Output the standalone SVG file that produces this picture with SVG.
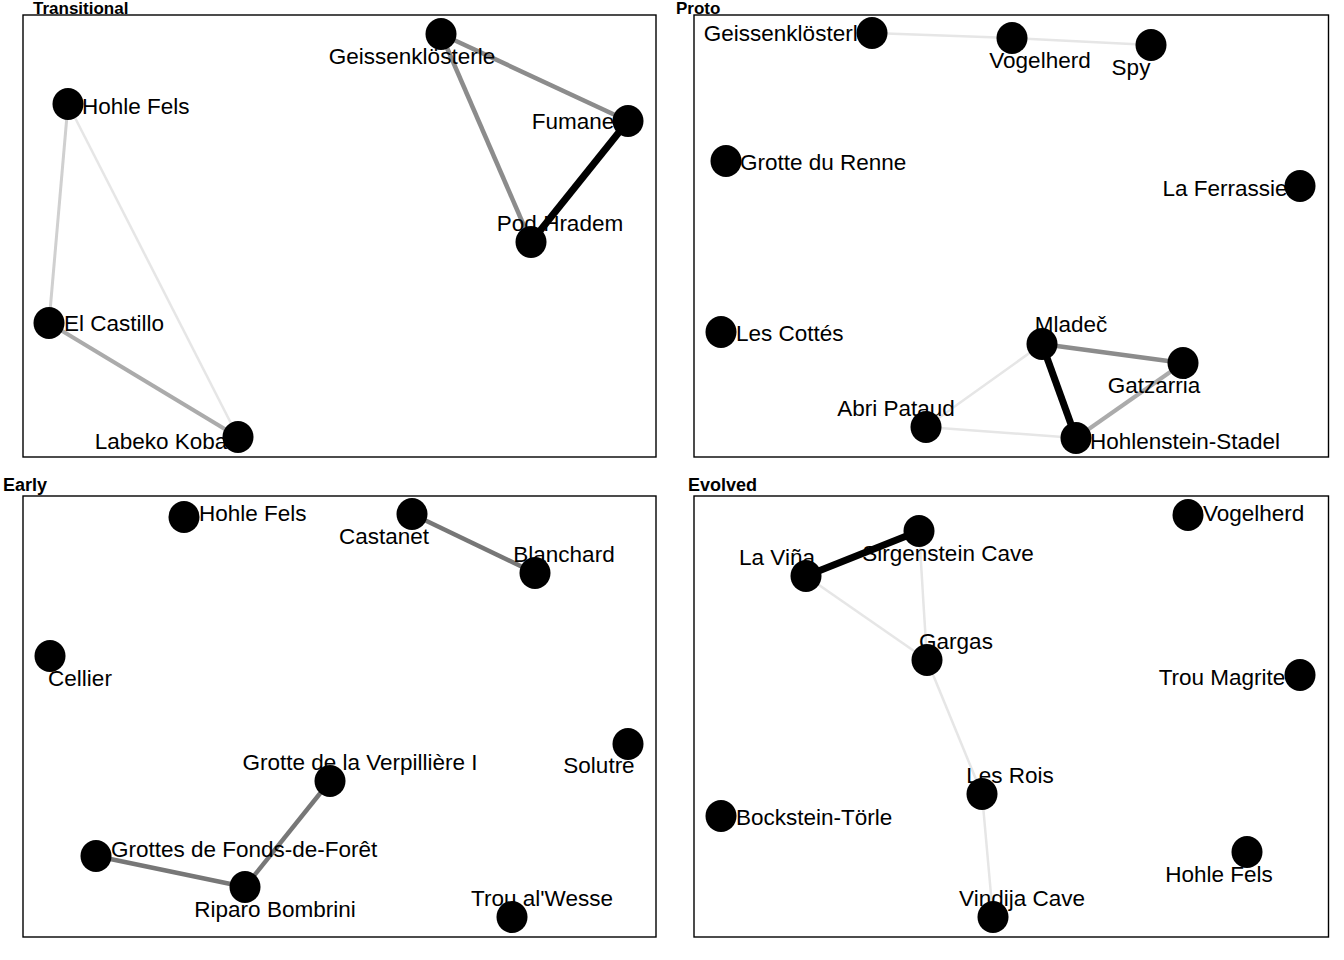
<svg xmlns="http://www.w3.org/2000/svg" width="1344" height="960" viewBox="0 0 1344 960">
<style>
.bg{fill:#fff}
.frame{fill:none;stroke:#000;stroke-width:1.4}
.title{font-family:"Liberation Sans",Arial,sans-serif;font-size:18px;font-weight:bold;fill:#000}
.top{font-size:17px}
.lbl{font-family:"Liberation Sans",Arial,sans-serif;font-size:22.5px;fill:#000}
.mid{text-anchor:middle}
.n{fill:#000}
.e{fill:none;stroke-linecap:butt}
.w1{stroke:#e6e6e6;stroke-width:2.5}
.w2{stroke:#d0d0d0;stroke-width:3}
.w3{stroke:#ababab;stroke-width:4}
.w4{stroke:#8c8c8c;stroke-width:4.5}
.w5{stroke:#777;stroke-width:4.5}
.w6{stroke:#000;stroke-width:7}
</style>
<rect class="bg" x="0" y="0" width="1344" height="960"/>

<g id="panels">
<text class="title top" x="33" y="13.5">Transitional</text>
<rect class="frame" x="23" y="15" width="633" height="442"/>
<text class="title top" x="676" y="13.5">Proto</text>
<rect class="frame" x="694" y="15" width="634.5" height="442"/>
<text class="title" x="3" y="491">Early</text>
<rect class="frame" x="23" y="496" width="633" height="441"/>
<text class="title" x="688" y="491">Evolved</text>
<rect class="frame" x="694" y="496" width="634.5" height="441"/>
</g>

<g id="connectors">
<!-- Transitional -->
<line class="e w4" x1="441" y1="34" x2="628" y2="121"/>
<line class="e w4" x1="441" y1="34" x2="531" y2="242"/>
<line class="e w6" x1="628" y1="121" x2="531" y2="242"/>
<line class="e w2" x1="68" y1="104" x2="49" y2="323"/>
<line class="e w1" x1="68" y1="104" x2="238" y2="437"/>
<line class="e w3" x1="49" y1="323" x2="238" y2="437"/>
<!-- Proto -->
<line class="e w1" x1="872" y1="33" x2="1012" y2="38"/>
<line class="e w1" x1="1012" y1="38" x2="1151" y2="45"/>
<line class="e w4" x1="1042" y1="344" x2="1183" y2="363"/>
<line class="e w6" x1="1042" y1="344" x2="1076" y2="438"/>
<line class="e w3" x1="1183" y1="363" x2="1076" y2="438"/>
<line class="e w1" x1="926" y1="427" x2="1042" y2="344"/>
<line class="e w1" x1="926" y1="427" x2="1076" y2="438"/>
<!-- Early -->
<line class="e w5" x1="412" y1="514" x2="535" y2="573"/>
<line class="e w5" x1="330" y1="781" x2="245" y2="887"/>
<line class="e w5" x1="96" y1="856" x2="245" y2="887"/>
<!-- Evolved -->
<line class="e w6" x1="806" y1="576" x2="919" y2="531"/>
<line class="e w1" x1="806" y1="576" x2="927" y2="660"/>
<line class="e w1" x1="919" y1="531" x2="927" y2="660"/>
<line class="e w1" x1="927" y1="660" x2="982" y2="794"/>
<line class="e w1" x1="982" y1="794" x2="993" y2="917"/>
</g>

<!-- Transitional nodes -->
<g id="t-geissenklosterle"><text class="lbl mid" x="412" y="64">Geissenklösterle</text><ellipse class="n" cx="441" cy="34" rx="15.5" ry="16"/></g>
<g id="t-hohle-fels"><text class="lbl" x="82" y="114">Hohle Fels</text><ellipse class="n" cx="68" cy="104" rx="15.5" ry="16"/></g>
<g id="t-fumane"><text class="lbl mid" x="573" y="129">Fumane</text><ellipse class="n" cx="628" cy="121" rx="15.5" ry="16"/></g>
<g id="t-pod-hradem"><text class="lbl mid" x="560" y="231">Pod Hradem</text><ellipse class="n" cx="531" cy="242" rx="15.5" ry="16"/></g>
<g id="t-el-castillo"><text class="lbl" x="64" y="331">El Castillo</text><ellipse class="n" cx="49" cy="323" rx="15.5" ry="16"/></g>
<g id="t-labeko-koba"><text class="lbl mid" x="161" y="449">Labeko Koba</text><ellipse class="n" cx="238" cy="437" rx="15.5" ry="16"/></g>

<!-- Proto nodes -->
<g id="p-geissenklosterle"><text class="lbl mid" x="787" y="41">Geissenklösterle</text><ellipse class="n" cx="872" cy="33" rx="15.5" ry="16"/></g>
<g id="p-vogelherd"><text class="lbl mid" x="1040" y="68">Vogelherd</text><ellipse class="n" cx="1012" cy="38" rx="15.5" ry="16"/></g>
<g id="p-spy"><text class="lbl mid" x="1131" y="75">Spy</text><ellipse class="n" cx="1151" cy="45" rx="15.5" ry="16"/></g>
<g id="p-grotte-du-renne"><text class="lbl" x="740" y="170">Grotte du Renne</text><ellipse class="n" cx="726" cy="161" rx="15.5" ry="16"/></g>
<g id="p-la-ferrassie"><text class="lbl mid" x="1225" y="196">La Ferrassie</text><ellipse class="n" cx="1300" cy="186" rx="15.5" ry="16"/></g>
<g id="p-les-cottes"><text class="lbl" x="736" y="341">Les Cottés</text><ellipse class="n" cx="721" cy="332" rx="15.5" ry="16"/></g>
<g id="p-mladec"><text class="lbl mid" x="1071" y="332">Mladeč</text><ellipse class="n" cx="1042" cy="344" rx="15.5" ry="16"/></g>
<g id="p-gatzarria"><text class="lbl mid" x="1154" y="393">Gatzarria</text><ellipse class="n" cx="1183" cy="363" rx="15.5" ry="16"/></g>
<g id="p-abri-pataud"><text class="lbl mid" x="896" y="416">Abri Pataud</text><ellipse class="n" cx="926" cy="427" rx="15.5" ry="16"/></g>
<g id="p-hohlenstein-stadel"><text class="lbl" x="1090" y="449">Hohlenstein-Stadel</text><ellipse class="n" cx="1076" cy="438" rx="15.5" ry="16"/></g>

<!-- Early nodes -->
<g id="e-hohle-fels"><text class="lbl" x="199" y="521">Hohle Fels</text><ellipse class="n" cx="184" cy="517" rx="15.5" ry="16"/></g>
<g id="e-castanet"><text class="lbl mid" x="384" y="544">Castanet</text><ellipse class="n" cx="412" cy="514" rx="15.5" ry="16"/></g>
<g id="e-blanchard"><text class="lbl mid" x="564" y="562">Blanchard</text><ellipse class="n" cx="535" cy="573" rx="15.5" ry="16"/></g>
<g id="e-cellier"><text class="lbl mid" x="80" y="686">Cellier</text><ellipse class="n" cx="50" cy="656" rx="15.5" ry="16"/></g>
<g id="e-solutre"><text class="lbl mid" x="599" y="773">Solutre</text><ellipse class="n" cx="628" cy="744" rx="15.5" ry="16"/></g>
<g id="e-grotte-verpilliere"><text class="lbl mid" x="360" y="770">Grotte de la Verpillière I</text><ellipse class="n" cx="330" cy="781" rx="15.5" ry="16"/></g>
<g id="e-grottes-fonds-de-foret"><text class="lbl" x="111" y="857">Grottes de Fonds-de-Forêt</text><ellipse class="n" cx="96" cy="856" rx="15.5" ry="16"/></g>
<g id="e-riparo-bombrini"><text class="lbl mid" x="275" y="917">Riparo Bombrini</text><ellipse class="n" cx="245" cy="887" rx="15.5" ry="16"/></g>
<g id="e-trou-al-wesse"><text class="lbl mid" x="542" y="906">Trou al'Wesse</text><ellipse class="n" cx="512" cy="917" rx="15.5" ry="16"/></g>

<!-- Evolved nodes -->
<g id="v-vogelherd"><text class="lbl" x="1203" y="521">Vogelherd</text><ellipse class="n" cx="1188" cy="515" rx="15.5" ry="16"/></g>
<g id="v-sirgenstein-cave"><text class="lbl mid" x="948" y="561">Sirgenstein Cave</text><ellipse class="n" cx="919" cy="531" rx="15.5" ry="16"/></g>
<g id="v-la-vina"><text class="lbl mid" x="777" y="565">La Viña</text><ellipse class="n" cx="806" cy="576" rx="15.5" ry="16"/></g>
<g id="v-gargas"><text class="lbl mid" x="956" y="649">Gargas</text><ellipse class="n" cx="927" cy="660" rx="15.5" ry="16"/></g>
<g id="v-trou-magrite"><text class="lbl mid" x="1222" y="685">Trou Magrite</text><ellipse class="n" cx="1300" cy="675" rx="15.5" ry="16"/></g>
<g id="v-les-rois"><text class="lbl mid" x="1010" y="783">Les Rois</text><ellipse class="n" cx="982" cy="794" rx="15.5" ry="16"/></g>
<g id="v-bockstein-torle"><text class="lbl" x="736" y="825">Bockstein-Törle</text><ellipse class="n" cx="721" cy="816" rx="15.5" ry="16"/></g>
<g id="v-hohle-fels"><text class="lbl mid" x="1219" y="882">Hohle Fels</text><ellipse class="n" cx="1247" cy="852" rx="15.5" ry="16"/></g>
<g id="v-vindija-cave"><text class="lbl mid" x="1022" y="906">Vindija Cave</text><ellipse class="n" cx="993" cy="917" rx="15.5" ry="16"/></g>
</svg>
